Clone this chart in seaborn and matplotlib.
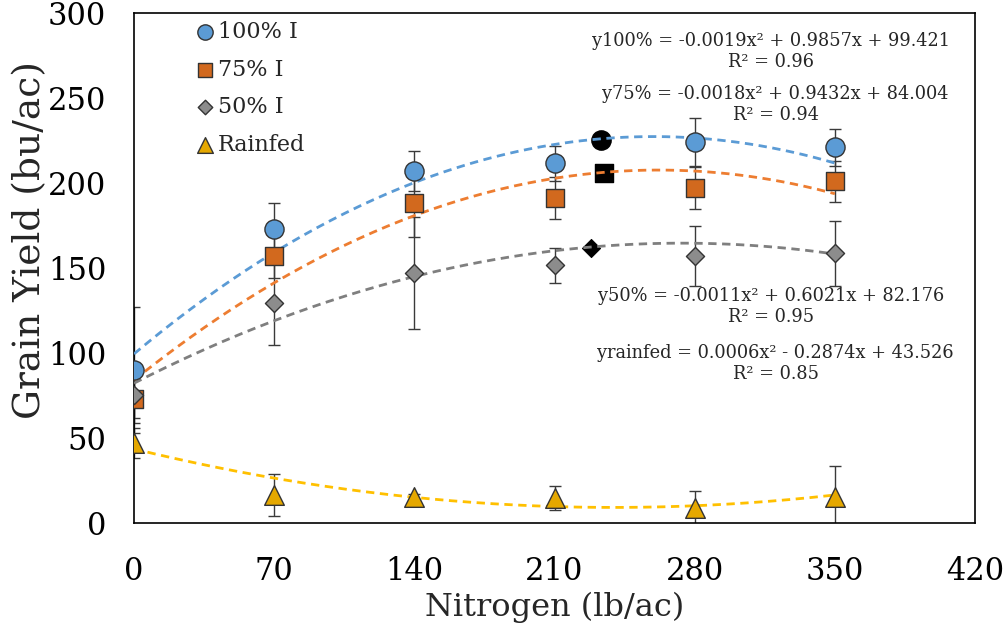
import matplotlib
matplotlib.use("Agg")
import matplotlib.pyplot as plt
import numpy as np
import pandas as pd
import seaborn as sns

# nitrogen rates (lb/ac)
nitrogen = [0, 70, 140, 210, 280, 350]

# mean grain yield (bu/ac) per irrigation level
yield_100 = [90, 173, 207, 211.5, 224, 221]
yield_75 = [73, 157, 188, 191, 197, 201]
yield_50 = [75, 129.5, 147, 151.5, 157, 158.5]
yield_rainfed = [47, 16.5, 15, 14.7, 8.5, 15.5]

# error bar half-widths
err_100 = [37, 15, 12, 10.5, 14, 11]
err_75 = [14, 13, 20, 12.5, 12.5, 12]
err_50 = [13, 25, 33, 10.5, 17.5, 19]
err_rainfed = [9, 12.5, 2, 7, 10, 18]

# optimum points (black markers)
opt_n = [233, 234.5, 228]
opt_yield = [225.5, 206, 161.5]

# trendline coefficients (a, b, c) for a*x^2 + b*x + c
coef_100 = [-0.0019, 0.9857, 99.421]
coef_75 = [-0.0018, 0.9432, 84.004]
coef_50 = [-0.0011, 0.6021, 82.176]
coef_rainfed = [0.0006, -0.2874, 43.526]

labels = ["100% I", "75% I", "50% I", "Rainfed"]
equations = [
    "y100% = -0.0019x² + 0.9857x + 99.421\nR² = 0.96",
    "y75% = -0.0018x² + 0.9432x + 84.004\nR² = 0.94",
    "y50% = -0.0011x² + 0.6021x + 82.176\nR² = 0.95",
    "yrainfed = 0.0006x² - 0.2874x + 43.526\nR² = 0.85",
]

sns.set_style("white")
plt.rcParams["font.family"] = ["DejaVu Serif"]

fig = plt.figure(figsize=(10.06, 6.27), dpi=100)
ax = fig.add_axes([0.1332, 0.166, 0.836, 0.8134])

series = [
    (yield_100, err_100, coef_100, "o", "#5B9BD5", "#5B9BD5", 190),
    (yield_75, err_75, coef_75, "s", "#D2691E", "#ED7D31", 160),
    (yield_50, err_50, coef_50, "D", "#8C8C8C", "#7F7F7F", 85),
    (yield_rainfed, err_rainfed, coef_rainfed, "^", "#E5A800", "#FFC000", 200),
]

xs = np.linspace(0, 350, 200)
for vals, errs, coef, mk, fc, lc, size in series:
    ax.errorbar(nitrogen, vals, yerr=errs, fmt="none", ecolor="#3a3a3a",
                elinewidth=1, capsize=4, capthick=1, zorder=2)
    trend = pd.DataFrame({"x": xs, "y": np.polyval(coef, xs)})
    sns.lineplot(data=trend, x="x", y="y", ax=ax, color=lc, lw=2,
                 linestyle=(0, (3, 2)), zorder=3)

for (vals, errs, coef, mk, fc, lc, size), lab in zip(series, labels):
    sns.scatterplot(x=nitrogen, y=vals, ax=ax, marker=mk, color=fc, s=size,
                    edgecolor="#333333", linewidth=1, label=lab, zorder=4)

# optimum points
for n, y, mk, size in zip(opt_n, opt_yield, ["o", "s", "D"], [190, 160, 85]):
    sns.scatterplot(x=[n], y=[y], ax=ax, marker=mk, color="black", s=size,
                    edgecolor="black", zorder=2.5, legend=False)

ax.set_xlim(0, 420)
ax.set_ylim(0, 300)
ax.set_xticks(range(0, 421, 70))
ax.set_yticks(range(0, 301, 50))
ax.tick_params(direction="inout", length=12, width=1, colors="#999999",
               labelcolor="black", labelsize=22)
ax.tick_params(axis="x", pad=18)
ax.tick_params(axis="y", pad=14)
for sp in ax.spines.values():
    sp.set_color("black")
    sp.set_linewidth(1.2)

ax.set_xlabel("Nitrogen (lb/ac)", fontsize=23)
ax.xaxis.set_label_coords(0.5, -0.135)
ax.set_ylabel("Grain Yield (bu/ac)", fontsize=27)
ax.yaxis.set_label_coords(-0.102, 0.555)

leg = ax.legend(loc="upper left", bbox_to_anchor=(0.055, 1.01), frameon=False,
                fontsize=16, handletextpad=0.1, labelspacing=0.7,
                borderaxespad=0.2, handlelength=1.0, markerscale=0.8)

eq_pos = [(0.757, 0.925), (0.763, 0.82), (0.757, 0.425), (0.763, 0.312)]
for txt, (px, py) in zip(equations, eq_pos):
    ax.text(px, py, txt, transform=ax.transAxes, ha="center", va="center",
            fontsize=12.8, multialignment="center", linespacing=1.2)

fig.savefig("out.png", dpi=100)
